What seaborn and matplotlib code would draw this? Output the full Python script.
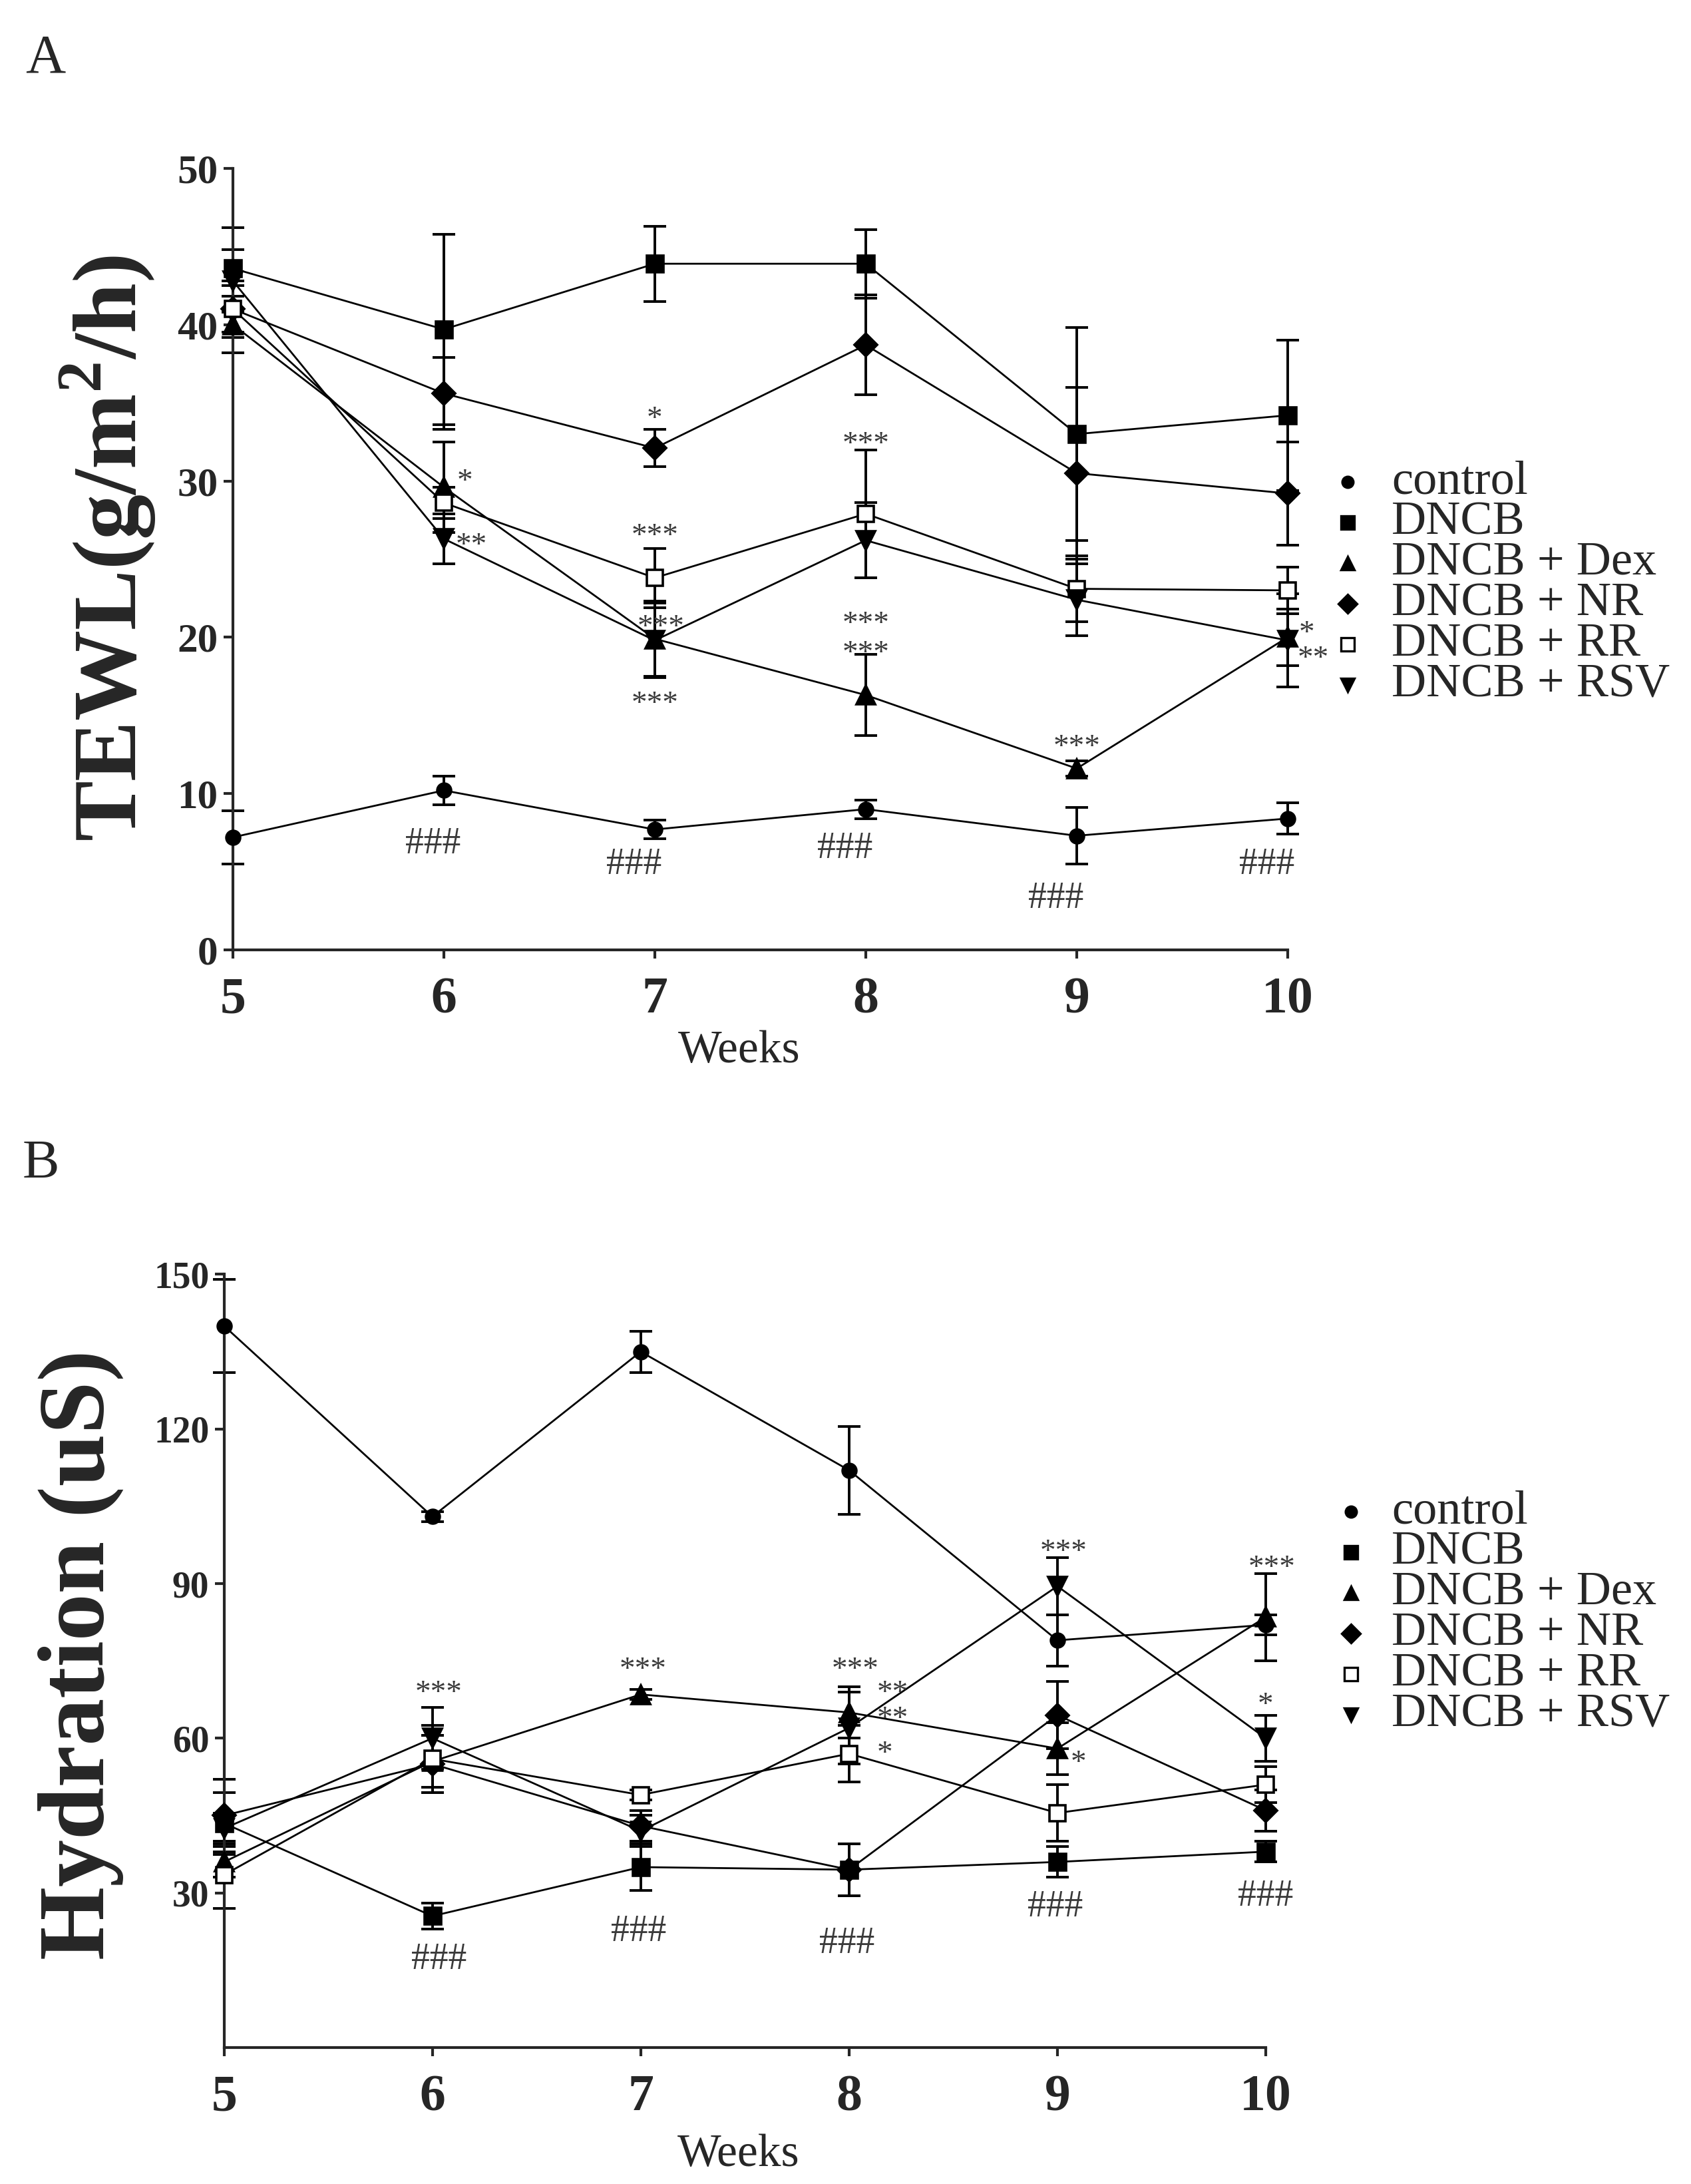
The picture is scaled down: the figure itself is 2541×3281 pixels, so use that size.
import matplotlib
matplotlib.use("Agg")
import matplotlib.pyplot as plt
from matplotlib.lines import Line2D
import pandas as pd
import seaborn as sns


weeks = [5, 6, 7, 8, 9, 10]
groups = ["control", "DNCB", "DNCB + Dex", "DNCB + NR", "DNCB + RR", "DNCB + RSV"]

# A: TEWL (g/m2/h), mean and error
tewl_control = [7.2, 10.2, 7.7, 9.0, 7.3, 8.4]
tewl_dncb = [43.6, 39.7, 43.9, 43.9, 33.0, 34.2]
tewl_dex = [40.0, 29.6, 19.9, 16.3, 11.6, 20.0]
tewl_nr = [41.0, 35.6, 32.1, 38.7, 30.5, 29.2]
tewl_rr = [41.0, 28.6, 23.8, 27.9, 23.1, 23.0]
tewl_rsv = [42.8, 26.3, 19.8, 26.2, 22.4, 19.8]

tewl_err_control = [1.7, 0.9, 0.6, 0.6, 1.8, 1.0]
tewl_err_dncb = [2.6, 6.1, 2.4, 2.2, 6.8, 4.8]
tewl_err_dex = [1.8, 2.9, 2.4, 2.6, 0.5, 1.8]
tewl_err_nr = [1.5, 2.3, 1.2, 3.2, 5.5, 3.3]
tewl_err_rr = [1.8, 1.0, 1.9, 4.1, 2.1, 1.5]
tewl_err_rsv = [2.0, 1.6, 2.4, 2.4, 2.3, 3.0]

# B: Hydration (uS), mean and error
hyd_control = [140, 103, 135, 112, 79, 82]
hyd_dncb = [43.5, 25.5, 35, 34.5, 36, 38]
hyd_dex = [36, 55.5, 68.5, 65, 58, 83.5]
hyd_nr = [45, 55, 43, 34.5, 64.5, 46]
hyd_rr = [33.5, 56, 49, 57, 45.5, 51]
hyd_rsv = [42.5, 60, 42, 62, 89.5, 60]

hyd_err_control = [9, 1, 4, 8.5, 5, 2]
hyd_err_dncb = [6, 2.5, 4.5, 5, 3, 2]
hyd_err_dex = [3, 5, 1, 5, 5, 8.5]
hyd_err_nr = [7, 5.5, 3, 5, 6.5, 4]
hyd_err_rr = [6.5, 6.5, 1, 5.5, 5.5, 3.5]
hyd_err_rsv = [3, 6, 3, 7, 5.5, 4.5]

# significance marks (week, value, text)
tewl_stars = [
    (6.1, 30.6, "*"), (6.13, 26.5, "**"), (7.0, 34.6, "*"), (7.0, 27.1, "***"),
    (7.03, 21.3, "***"), (7.0, 16.4, "***"), (8.0, 33.0, "***"), (8.0, 21.5, "***"),
    (8.0, 19.6, "***"), (9.0, 13.6, "***"), (10.09, 20.9, "*"), (10.12, 19.3, "**"),
]
tewl_hashes = [(5.95, 7.0), (6.9, 5.7), (7.9, 6.7), (8.9, 3.5), (9.9, 5.7)]

hyd_stars = [
    (6.03, 70.7, "***"), (7.01, 75.2, "***"), (8.03, 75.2, "***"), (8.21, 70.7, "**"),
    (8.21, 65.7, "**"), (8.17, 59.0, "*"), (9.03, 98.1, "***"), (9.1, 57.2, "*"),
    (10.03, 95.0, "***"), (10.0, 68.4, "*"),
]
hyd_hashes = [(6.03, 17.8), (6.99, 23.2), (7.99, 20.8), (8.99, 28.0), (10.0, 30.0)]


def long_table(means, errs):
    rows = []
    for g, m, e in zip(groups, means, errs):
        for w, v, s in zip(weeks, m, e):
            rows.append({"week": w, "group": g, "value": v, "err": s})
    return pd.DataFrame(rows)


df_a = long_table(
    [tewl_control, tewl_dncb, tewl_dex, tewl_nr, tewl_rr, tewl_rsv],
    [tewl_err_control, tewl_err_dncb, tewl_err_dex, tewl_err_nr, tewl_err_rr, tewl_err_rsv],
)
df_b = long_table(
    [hyd_control, hyd_dncb, hyd_dex, hyd_nr, hyd_rr, hyd_rsv],
    [hyd_err_control, hyd_err_dncb, hyd_err_dex, hyd_err_nr, hyd_err_rr, hyd_err_rsv],
)

STYLE = {
    "control": dict(marker="o", ms=7.5, mfc="black"),
    "DNCB": dict(marker="s", ms=9, mfc="black"),
    "DNCB + Dex": dict(marker="^", ms=10, mfc="black"),
    "DNCB + NR": dict(marker="D", ms=8.5, mfc="black"),
    "DNCB + RR": dict(marker="s", ms=8.5, mfc="white"),
    "DNCB + RSV": dict(marker="v", ms=10, mfc="black"),
}
LEG_MS = {"control": 6, "DNCB": 7, "DNCB + Dex": 7.5, "DNCB + NR": 7, "DNCB + RR": 7, "DNCB + RSV": 7.5}

sns.set_style("ticks")
plt.rcParams["font.family"] = ["Liberation Serif", "DejaVu Serif"]
plt.rcParams["mathtext.fontset"] = "custom"
plt.rcParams["mathtext.rm"] = "Liberation Serif"
plt.rcParams["mathtext.bf"] = "Liberation Serif:bold"

MARK_COLOR = "#3a3a3a"


def draw_panel(ax, df, ylim, yticks, ytick_size, stars, hashes):
    for g in groups:
        sub = df[df["group"] == g]
        ax.errorbar(sub["week"], sub["value"], yerr=sub["err"], fmt="none",
                    ecolor="black", elinewidth=1.4, capsize=6, capthick=1.4,
                    clip_on=False, zorder=2)
    for g in groups:
        sub = df[df["group"] == g]
        st = STYLE[g]
        sns.lineplot(data=sub, x="week", y="value", ax=ax, color="black",
                     linewidth=1.0, marker=st["marker"], markersize=st["ms"],
                     markerfacecolor=st["mfc"], markeredgecolor="black",
                     markeredgewidth=1.3, clip_on=False, zorder=3,
                     errorbar=None, legend=False)
    for x, y, t in stars:
        ax.annotate(t, (x, y), xytext=(0, -10), textcoords="offset points",
                    ha="center", va="baseline", fontsize=17, color=MARK_COLOR,
                    annotation_clip=False)
    for x, y in hashes:
        ax.annotate("###", (x, y), xytext=(0, -7), textcoords="offset points",
                    ha="center", va="baseline", fontsize=20, color=MARK_COLOR,
                    annotation_clip=False)

    ax.set_xlim(5, 10)
    ax.set_ylim(*ylim)
    ax.set_xticks(weeks)
    ax.set_yticks(yticks)
    ax.set_xticklabels([str(w) for w in weeks], fontsize=28, fontweight="bold")
    ax.set_yticklabels([str(v) for v in yticks], fontsize=ytick_size, fontweight="bold")
    ax.tick_params(axis="x", direction="out", length=4.5, width=1.5, pad=10)
    ax.tick_params(axis="y", direction="out", length=5, width=1.5, pad=3)
    sns.despine(ax=ax)
    for s in ("left", "bottom"):
        ax.spines[s].set_linewidth(1.5)
    ax.set_ylabel("")
    ax.set_xlabel("Weeks", fontsize=25, va="center")


def draw_legend(fig, x_mark, x_text, y_top, step):
    for i, g in enumerate(groups):
        y = y_top - i * step
        st = STYLE[g]
        fig.add_artist(Line2D([x_mark], [y], transform=fig.transFigure,
                              marker=st["marker"], markersize=LEG_MS[g],
                              markerfacecolor=st["mfc"], markeredgecolor="black",
                              markeredgewidth=1.2, linestyle="none"))
        fig.text(x_text, y, g, fontsize=26, ha="left", va="center")


fig = plt.figure(figsize=(2541 / 200, 3281 / 200), dpi=200)
ax_a = fig.add_axes([0.1377, 0.5651, 0.6238, 0.3578])
ax_b = fig.add_axes([0.1325, 0.0625, 0.616, 0.354])

draw_panel(ax_a, df_a, (0, 50), [0, 10, 20, 30, 40, 50], 22, tewl_stars, tewl_hashes)
draw_panel(ax_b, df_b, (0, 150), [30, 60, 90, 120, 150], 20, hyd_stars, hyd_hashes)

ax_a.xaxis.set_label_coords(0.48, -0.1295)
ax_b.xaxis.set_label_coords(0.494, -0.1386)

fig.text(0.0638, 0.749, r"TEWL(g/m$^{\mathbf{2}}$/h)", rotation=90, ha="center",
         va="center", fontsize=49, fontweight="bold")
fig.text(0.0476, 0.2424, "Hydration (uS)", rotation=90, ha="center", va="center",
         fontsize=51, fontweight="bold")

fig.text(0.027, 0.973, "A", fontsize=30, ha="center", va="center")
fig.text(0.024, 0.467, "B", fontsize=30, ha="center", va="center")

draw_legend(fig, 0.797, 0.823, 0.7793, 0.0186)
draw_legend(fig, 0.799, 0.823, 0.3078, 0.0186)

fig.savefig("out.png", dpi=200)
